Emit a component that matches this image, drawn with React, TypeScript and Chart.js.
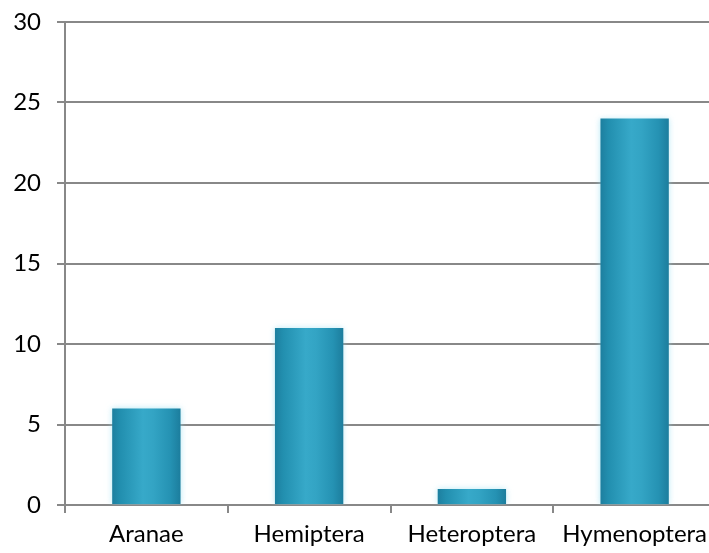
import React, { useEffect, useRef } from "react";
import { Chart, registerables } from "chart.js";

Chart.register(...registerables);

const categories = ["Aranae", "Hemiptera", "Heteroptera", "Hymenoptera"];
const counts = [6, 11, 1, 24];
const yMin = 0;
const yMax = 30;
const yStep = 5;

const barGradientPlugin = {
  id: "barGradient",
  beforeDatasetsDraw(chart: any) {
    const ctx = chart.ctx;
    chart.data.datasets.forEach((_: any, di: number) => {
      const meta = chart.getDatasetMeta(di);
      meta.data.forEach((el: any) => {
        const left = el.x - el.width / 2;
        const right = el.x + el.width / 2;
        const g = ctx.createLinearGradient(left, 0, right, 0);
        g.addColorStop(0, "#1d7f9f");
        g.addColorStop(0.12, "#228faf");
        g.addColorStop(0.45, "#37a9c9");
        g.addColorStop(0.6, "#33a4c4");
        g.addColorStop(0.85, "#2592b3");
        g.addColorStop(1, "#1c7d9d");
        el.options = Object.assign({}, el.options, { backgroundColor: g });
      });
    });
  },
  beforeDatasetDraw(chart: any) {
    const ctx = chart.ctx;
    ctx.save();
    ctx.shadowColor = "rgba(140,220,240,0.6)";
    ctx.shadowBlur = 6;
  },
  afterDatasetDraw(chart: any) {
    chart.ctx.restore();
  },
};

export default function App() {
  const ref = useRef<HTMLCanvasElement>(null);
  useEffect(() => {
    if (!ref.current) return;
    const chart = new Chart(ref.current, {
      type: "bar",
      data: {
        labels: categories,
        datasets: [
          {
            data: counts,
            backgroundColor: "#2a9abb",
            borderWidth: 0,
            barPercentage: 0.84,
            categoryPercentage: 0.5,
          },
        ],
      },
      plugins: [barGradientPlugin],
      options: {
        animation: false,
        responsive: false,
        maintainAspectRatio: false,
        layout: { padding: { top: 22, right: 0, left: 0, bottom: 0 } },
        plugins: { legend: { display: false }, tooltip: { enabled: false } },
        scales: {
          x: {
            grid: {
              display: true,
              drawOnChartArea: false,
              drawTicks: true,
              tickLength: 8,
              color: "#888888",
              lineWidth: 2,
              offset: true,
            },
            border: { display: true, color: "#888888", width: 2 },
            ticks: {
              color: "#000000",
              font: { family: "Lato", size: 24 },
              padding: 7,
              maxRotation: 0,
            },
            afterFit(scale: any) {
              scale.height = 48;
              scale.paddingLeft = 0;
              scale.paddingRight = 0;
            },
          },
          y: {
            min: yMin,
            max: yMax,
            ticks: {
              stepSize: yStep,
              color: "#000000",
              font: { family: "Lato", size: 24 },
              padding: 16,
            },
            grid: {
              color: "#888888",
              lineWidth: 2,
              tickLength: 8,
              drawTicks: true,
            },
            border: { display: true, color: "#888888", width: 2 },
            afterFit(scale: any) {
              scale.width = 65;
              scale.paddingTop = 0;
              scale.paddingBottom = 0;
            },
          },
        },
      },
    });
    return () => chart.destroy();
  }, []);
  return (
    <div style={{ position: "fixed", left: 0, top: 0, width: 709, height: 553, overflow: "hidden", background: "#fff" }}>
      <canvas ref={ref} width={716} height={553} style={{ display: "block" }} />
    </div>
  );
}
